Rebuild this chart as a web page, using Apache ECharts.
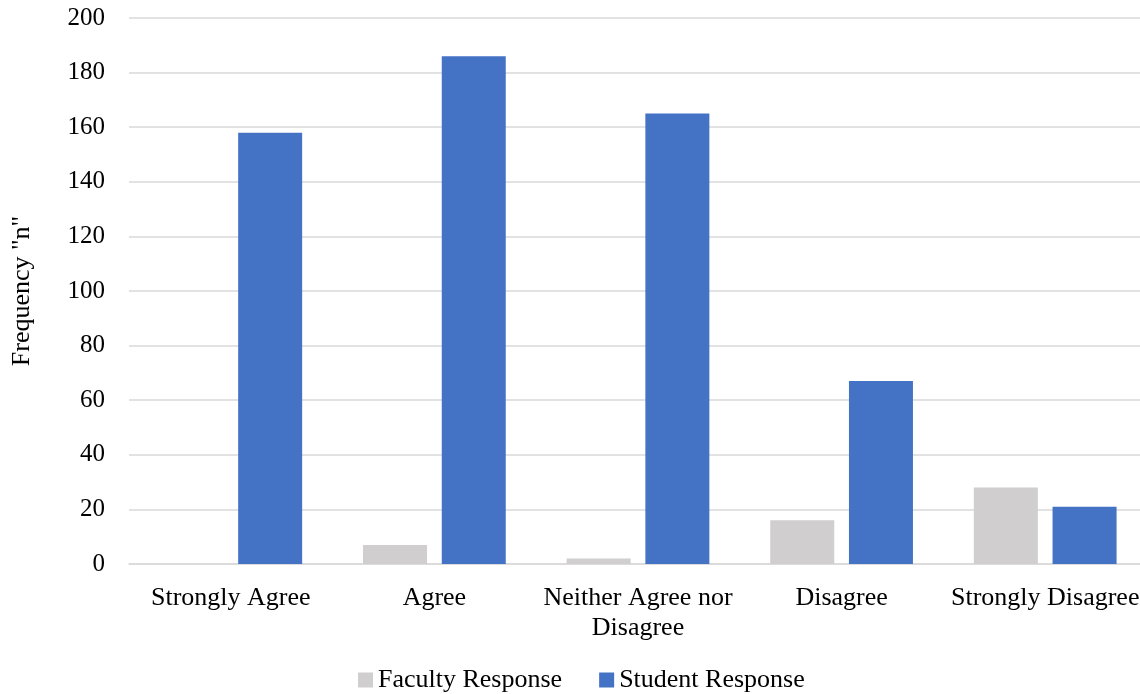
<!DOCTYPE html>
<html>
<head>
<meta charset="utf-8">
<script src="https://cdn.jsdelivr.net/npm/echarts@6/dist/echarts.min.js"></script>
<style>html,body{margin:0;padding:0;background:#fff}#c{width:1140px;height:694px}</style>
</head>
<body>
<div id="c"></div>
<script>
const categories = ['Strongly Agree', 'Agree', 'Neither Agree nor\nDisagree', 'Disagree', 'Strongly Disagree'];
const facultyResponse = [0, 7, 2, 16, 28];
const studentResponse = [158, 186, 165, 67, 21];
const yTicks = { min: 0, max: 200, interval: 20 };
const yAxisTitle = 'Frequency "n"';
const seriesNames = ['Faculty Response', 'Student Response'];

const FONT = '"Liberation Serif", "Times New Roman", serif';
const chart = echarts.init(document.getElementById('c'), null, { renderer: 'canvas' });
chart.setOption({
  animation: false,
  backgroundColor: '#ffffff',
  textStyle: { fontFamily: FONT, color: '#000' },
  grid: { left: 129, top: 18, width: 1018, bottom: 130, containLabel: false, outerBoundsMode: 'none' },
  legend: {
    top: 662,
    left: 353,
    itemWidth: 15,
    itemHeight: 15,
    itemGap: 37,
    icon: 'rect',
    textStyle: { fontFamily: FONT, fontSize: 26, color: '#000' },
    data: seriesNames
  },
  xAxis: {
    type: 'category',
    data: categories,
    axisLine: { show: true, lineStyle: { color: '#d9d9d9', width: 1.5 } },
    axisTick: { show: false },
    axisLabel: { fontFamily: FONT, fontSize: 26, color: '#000', margin: 19, lineHeight: 30, interval: 0 }
  },
  yAxis: {
    type: 'value',
    min: yTicks.min,
    max: yTicks.max,
    interval: yTicks.interval,
    name: yAxisTitle,
    nameLocation: 'middle',
    nameGap: 94,
    nameRotate: 90,
    nameTextStyle: { fontFamily: FONT, fontSize: 26, color: '#000' },
    axisLine: { show: false },
    axisTick: { show: false },
    axisLabel: { fontFamily: FONT, fontSize: 25, color: '#000', margin: 24 },
    splitLine: { lineStyle: { color: '#d9d9d9', width: 1.5 } }
  },
  series: [
    {
      name: seriesNames[0],
      type: 'bar',
      data: facultyResponse,
      barWidth: 64,
      barGap: '23%',
      itemStyle: { color: '#d0cece' }
    },
    {
      name: seriesNames[1],
      type: 'bar',
      data: studentResponse,
      barWidth: 64,
      barGap: '23%',
      itemStyle: { color: '#4472c4' }
    }
  ]
});
</script>
</body>
</html>
